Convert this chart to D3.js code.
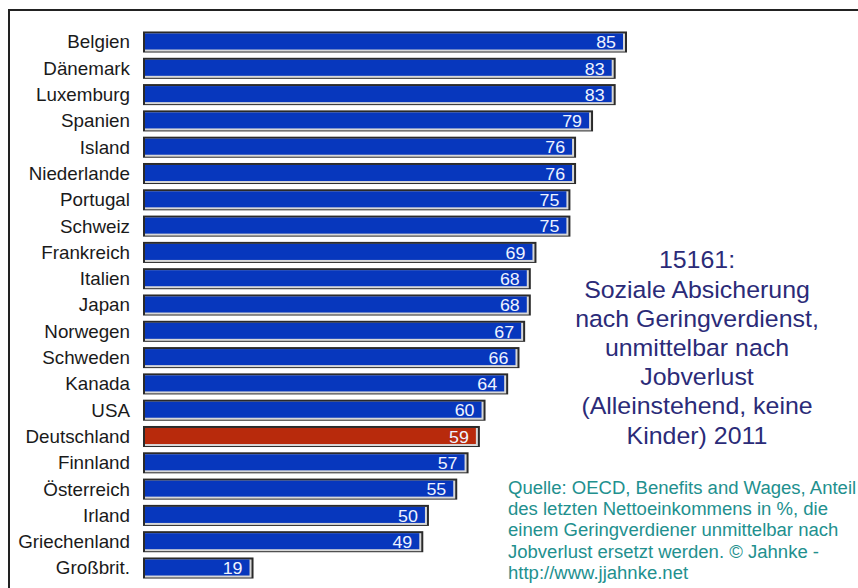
<!DOCTYPE html>
<html>
<head>
<meta charset="utf-8">
<script src="https://cdn.jsdelivr.net/npm/d3@7"></script>
<style>
  body { margin: 0; background: #fff; }
  svg { display: block; font-family: "Liberation Sans", Arial, sans-serif; }
</style>
</head>
<body>
<div id="container"></div>
<script>
/**
 * DATA
 * */
const countries = ["Belgien", "Dänemark", "Luxemburg", "Spanien", "Island", "Niederlande",
  "Portugal", "Schweiz", "Frankreich", "Italien", "Japan", "Norwegen", "Schweden",
  "Kanada", "USA", "Deutschland", "Finnland", "Österreich", "Irland", "Griechenland", "Großbrit."];
const values = [85, 83, 83, 79, 76, 76, 75, 75, 69, 68, 68, 67, 66, 64, 60, 59, 57, 55, 50, 49, 19];
const highlight = "Deutschland";

const titleLines = ["15161:", "Soziale Absicherung", "nach Geringverdienst,", "unmittelbar nach",
  "Jobverlust", "(Alleinstehend, keine", "Kinder) 2011"];
const sourceLines = ["Quelle: OECD, Benefits and Wages, Anteil",
  "des letzten Nettoeinkommens in %, die",
  "einem Geringverdiener unmittelbar nach",
  "Jobverlust ersetzt werden. © Jahnke -",
  "http://www.jjahnke.net"];

/**
 * CONSTANTS
 * */
const width = 858, height = 588;

const data = countries.map((c, i) => ({ country: c, value: values[i] }));

const svg = d3.select("#container")
  .append("svg")
  .attr("width", width)
  .attr("height", height);

// frame (top and left only, the rest is cut off)
svg.append("path")
  .attr("d", `M9,${height} V10 H${width}`)
  .attr("fill", "none")
  .attr("stroke", "#222")
  .attr("stroke-width", 2);

const x = d3.scaleLinear().domain([0, 85]).range([144, 625]);
const y = d3.scaleBand()
  .domain(countries)
  .range([28.85, 28.85 + 21 * 26.3])
  .paddingInner(0.2)
  .paddingOuter(0.1);

const rows = svg.append("g")
  .selectAll("g.row")
  .data(data)
  .join("g")
  .attr("class", "row");

// bevelled bars: dark outline, light edge bottom/right, coloured face
rows.append("rect")
  .attr("x", x(0) - 1)
  .attr("y", d => y(d.country))
  .attr("width", d => x(d.value) - x(0) + 3)
  .attr("height", y.bandwidth())
  .attr("fill", "#2a2a2a");

rows.append("rect")
  .attr("x", x(0) + 1)
  .attr("y", d => y(d.country) + 2)
  .attr("width", d => x(d.value) - x(0) - 1)
  .attr("height", y.bandwidth() - 3)
  .attr("fill", "#d8d8d8");

rows.append("rect")
  .attr("x", x(0) + 1)
  .attr("y", d => y(d.country) + 2)
  .attr("width", d => x(d.value) - x(0) - 3)
  .attr("height", y.bandwidth() - 5)
  .attr("fill", d => d.country === highlight ? "#b82a0c" : "#0737bd");

// country labels
rows.append("text")
  .attr("transform", d => `translate(130,${y(d.country) + y.bandwidth() / 2}) scale(1.045,1)`)
  .attr("dy", "0.36em")
  .attr("text-anchor", "end")
  .attr("font-size", 18)
  .attr("fill", "#1a1a1a")
  .text(d => d.country);

// value labels inside bars
rows.append("text")
  .attr("transform", d => `translate(${x(d.value) - 9},${y(d.country) + y.bandwidth() / 2}) scale(1.05,1)`)
  .attr("dy", "0.37em")
  .attr("text-anchor", "end")
  .attr("font-size", 17)
  .attr("fill", "#eef3ff")
  .text(d => d.value);

// title block
svg.append("g")
  .selectAll("text")
  .data(titleLines)
  .join("text")
  .attr("transform", (d, i) => `translate(697,${260 + i * 29.2}) scale(1.07,1)`)
  .attr("dy", "0.36em")
  .attr("text-anchor", "middle")
  .attr("font-size", 23.3)
  .attr("fill", "#2b2b78")
  .text(d => d);

// source note
svg.append("g")
  .selectAll("text")
  .data(sourceLines)
  .join("text")
  .attr("transform", (d, i) => `translate(508,${487 + i * 21.3}) scale(0.975,1)`)
  .attr("dy", "0.36em")
  .attr("font-size", 19)
  .attr("fill", "#22908e")
  .text(d => d);
</script>
</body>
</html>
